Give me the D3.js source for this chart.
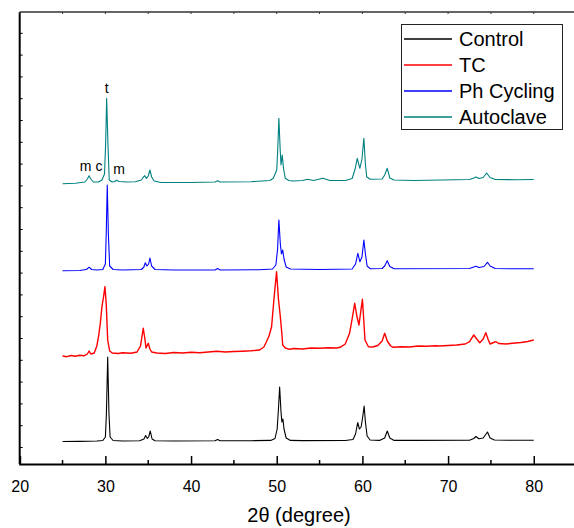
<!DOCTYPE html>
<html>
<head>
<meta charset="utf-8">
<script src="https://cdn.jsdelivr.net/npm/d3@7"></script>
<style>
  html, body { margin: 0; padding: 0; background: #fff; }
  svg { display: block; font-family: Arial, "Liberation Sans", sans-serif; }
</style>
</head>
<body>
<svg id="chart" width="574" height="528"></svg>
<script>
// XRD patterns: [2θ (degree), intensity (a.u., stacked offsets included)]
const control = [[25,22.5],[27,22.6],[28,22.8],[29,23],[29.7,23.5],[30.0,27],[30.12,50],[30.27,107],[30.42,50],[30.55,27],[30.9,23.5],[32,23],[34,23.2],[34.5,25],[34.7,28.5],[34.9,25.5],[35.05,27],[35.24,33],[35.45,25],[35.8,23.3],[38,23],[42.8,23.2],[43.1,24.5],[43.4,23.2],[47,23.3],[49.3,23.6],[49.8,25.5],[50.05,35],[50.2,55],[50.34,77],[50.5,52],[50.6,42],[50.72,45],[50.85,35],[51.1,26],[51.6,23.6],[53,23.4],[58,23.5],[58.9,24.5],[59.2,30],[59.45,41.5],[59.65,35],[59.85,37],[60.05,48],[60.2,58],[60.35,42],[60.55,28],[60.9,24],[62,23.6],[62.6,26],[62.9,33],[63.2,26],[63.7,23.6],[66,23.6],[72.5,23.8],[73.0,25.5],[73.25,27.5],[73.6,25.3],[74.1,26],[74.6,32],[74.9,26],[75.4,24],[77,23.8],[80,23.8]];

const tc = [[25,108],[25.5,107.3],[26,108.5],[26.5,107.8],[27,108.7],[27.5,108.2],[27.9,110],[28.1,113],[28.3,110],[28.7,111],[29.0,118],[29.2,127.3],[29.4,140],[29.6,157.3],[29.8,168],[29.95,177.3],[30.1,160],[30.27,124],[30.5,113],[30.8,111],[31.5,110.5],[32,111.2],[33,110.8],[33.7,112],[34.1,118],[34.42,135.7],[34.6,126],[34.74,116],[35.0,120.7],[35.2,115],[35.4,112],[36,111],[37,110.5],[38,111.5],[39,111],[40,111.7],[41,111.2],[42,112],[43,112.8],[44,112],[45,112.5],[46,112.8],[47,113.2],[48,114],[48.5,117],[48.8,122.3],[49.1,128],[49.4,137.3],[49.7,167.3],[49.98,192.3],[50.2,165],[50.45,144.7],[50.6,130],[50.7,119],[51.0,116],[51.5,114.7],[52,115.5],[53,115],[54,116],[55,115.8],[56,116.3],[57,116],[57.4,116.7],[58,120],[58.5,130.7],[58.8,145],[59.1,160.7],[59.35,148],[59.6,139],[59.8,152],[60.0,164.7],[60.15,145],[60.3,124],[60.7,117.3],[61.2,117],[61.8,118.5],[62.3,123],[62.6,130.7],[62.9,123],[63.3,118],[63.6,116.7],[64.5,117.3],[65.5,117],[66.5,118],[67.5,117.7],[68.5,118.3],[69.0,118],[70,118.5],[71,119],[72,120],[72.5,122.3],[73.0,129],[73.35,125],[73.7,121.3],[74.1,125],[74.4,131.3],[74.7,124],[74.9,120],[75.3,121.5],[75.6,122.3],[75.9,120.5],[76.8,120],[77.5,120.8],[78.5,121.5],[79.3,122.5],[80,124]];

const phCycling = [[25,193.3],[27,193.5],[27.8,194.5],[28.1,196.8],[28.4,194.5],[29,194],[29.7,194.5],[30.0,200],[30.1,230],[30.22,279],[30.35,230],[30.5,198],[30.9,194.5],[32,194],[34.2,194.5],[34.5,197],[34.66,201.3],[34.85,198],[35.05,200],[35.2,206],[35.4,198],[35.8,194.5],[38,194],[42.8,194],[43.1,195.5],[43.4,194],[48,194.3],[49.5,195],[49.9,199],[50.1,215],[50.25,244],[50.42,220],[50.55,210],[50.7,214],[50.85,205],[51.1,197],[51.6,195],[55,194.5],[58.8,195],[59.2,200],[59.47,210.7],[59.7,202.3],[59.95,207],[60.17,224],[60.35,210],[60.55,198],[60.9,195.3],[62.3,195.5],[62.6,198],[62.9,203.3],[63.2,197.5],[63.7,195.2],[72.5,195.5],[73.0,197],[73.25,197.7],[73.6,196.5],[74.2,197.5],[74.6,201.7],[74.9,198],[75.5,195.5],[78,195.2],[80,195.3]];

const autoclave = [[25,280.3],[26.5,280.8],[27.6,282],[27.9,285],[28.1,288.3],[28.3,285],[28.6,282],[29.2,282],[29.6,284],[29.9,290],[30.03,320],[30.15,365.7],[30.3,320],[30.45,284],[30.8,282],[31.1,282.5],[31.3,283.8],[31.6,282.5],[32.5,282],[33.5,282.3],[34.2,284],[34.45,287],[34.6,288.3],[34.8,285.5],[35.0,288],[35.2,294],[35.4,287],[35.7,283],[36.5,281.5],[40,281.5],[42.8,282],[43.1,283.2],[43.4,282],[47,282.3],[49.2,283.5],[49.6,285.7],[50.0,294],[50.12,315],[50.25,345.7],[50.4,315],[50.5,299],[50.64,309],[50.8,295],[51.0,285.7],[51.4,283.5],[51.9,283],[53,283.5],[53.6,284.7],[54.3,283.5],[55.4,285.7],[56.2,283.5],[58,283.5],[58.8,285.5],[59.15,295],[59.4,305.7],[59.7,295.7],[59.95,305],[60.17,325.7],[60.35,300],[60.5,287.3],[60.9,284.7],[62.3,285],[62.6,289],[62.9,295.7],[63.2,286],[63.7,284],[66,283.5],[72.5,284.5],[73.0,286],[73.25,287],[73.6,285.5],[74.1,286.5],[74.5,291],[74.9,286.5],[75.5,284.5],[78,284.3],[80,284.5]];

const seriesNames = ["Control", "TC", "Ph Cycling", "Autoclave"];
const seriesColors = ["#000000", "#ff0000", "#0000ff", "#008080"];
const seriesData = [control, tc, phCycling, autoclave];

const xMajorTicks = [20, 30, 40, 50, 60, 70, 80];
const xMinorTicks = [25, 35, 45, 55, 65, 75, 85];

// Phase labels over the Autoclave pattern: [2θ, intensity, label]
const phaseLabels = [[27.7, 293, "m"], [29.25, 293, "c"], [31.6, 290.5, "m"], [30.15, 371, "t"]];

const svg = d3.select("#chart");
const plot = { left: 19.7, right: 576.6, top: 12, bottom: 464 };

const x = d3.scaleLinear().domain([20, 85]).range([plot.left, plot.right]);
const y = d3.scaleLinear().domain([0, 452]).range([plot.bottom, plot.top]);

// frame: left and top edges
svg.append("line").attr("x1", plot.left).attr("x2", plot.left)
  .attr("y1", plot.top).attr("y2", plot.bottom)
  .attr("stroke", "#000").attr("stroke-width", 2);
svg.append("line").attr("x1", plot.left).attr("x2", plot.right)
  .attr("y1", plot.top).attr("y2", plot.top)
  .attr("stroke", "#333").attr("stroke-width", 1.5);

// left axis minor ticks (no labels)
const yTicks = d3.range(430.7, 5, -21.8);
svg.append("g").selectAll("line").data(yTicks).join("line")
  .attr("x1", plot.left).attr("x2", plot.left + 3)
  .attr("y1", d => y(d)).attr("y2", d => y(d))
  .attr("stroke", "#000").attr("stroke-width", 1);

// top ticks
svg.append("g").selectAll("line").data(xMajorTicks.concat(xMinorTicks)).join("line")
  .attr("x1", d => x(d)).attr("x2", d => x(d))
  .attr("y1", plot.top).attr("y2", plot.top + 2)
  .attr("stroke", "#333").attr("stroke-width", 1);

// bottom axis
const gx = svg.append("g").attr("transform", `translate(0,${plot.bottom})`)
  .call(d3.axisBottom(x).tickValues(xMajorTicks).tickSize(-8).tickPadding(17)
    .tickFormat(d3.format("d")));
gx.select(".domain").attr("stroke-width", 2);
gx.selectAll(".tick line").attr("stroke-width", 1.5);
gx.selectAll(".tick text").attr("font-size", 16).attr("font-family", "Arial, 'Liberation Sans', sans-serif").attr("fill", "#000");
svg.append("g").selectAll("line").data(xMinorTicks).join("line")
  .attr("x1", d => x(d)).attr("x2", d => x(d))
  .attr("y1", plot.bottom).attr("y2", plot.bottom - 4)
  .attr("stroke", "#000").attr("stroke-width", 1.5);

svg.append("text").attr("x", 299).attr("y", 522).attr("text-anchor", "middle")
  .attr("font-size", 20).text("2θ (degree)");

// patterns
const line = d3.line().x(d => x(d[0])).y(d => y(d[1]));
seriesData.forEach((s, i) => {
  svg.append("path").datum(s).attr("d", line)
    .attr("fill", "none").attr("stroke", seriesColors[i])
    .attr("stroke-width", i === 1 ? 1.4 : 1.1).attr("stroke-linejoin", "round");
});

// phase labels
svg.append("g").selectAll("text").data(phaseLabels).join("text")
  .attr("x", d => x(d[0])).attr("y", d => y(d[1]))
  .attr("text-anchor", "middle").attr("font-size", 14).text(d => d[2]);

// legend
const lg = svg.append("g");
lg.append("rect").attr("x", 401.5).attr("y", 24.5).attr("width", 161).attr("height", 105)
  .attr("fill", "#fff").attr("stroke", "#222").attr("stroke-width", 1);
seriesNames.forEach((name, i) => {
  const cy = 39 + i * 26;
  lg.append("line").attr("x1", 404).attr("x2", 452).attr("y1", cy).attr("y2", cy)
    .attr("stroke", seriesColors[i]).attr("stroke-width", 1.5);
  lg.append("text").attr("x", 459).attr("y", cy + 7).attr("font-size", 20).text(name);
});
</script>
</body>
</html>
